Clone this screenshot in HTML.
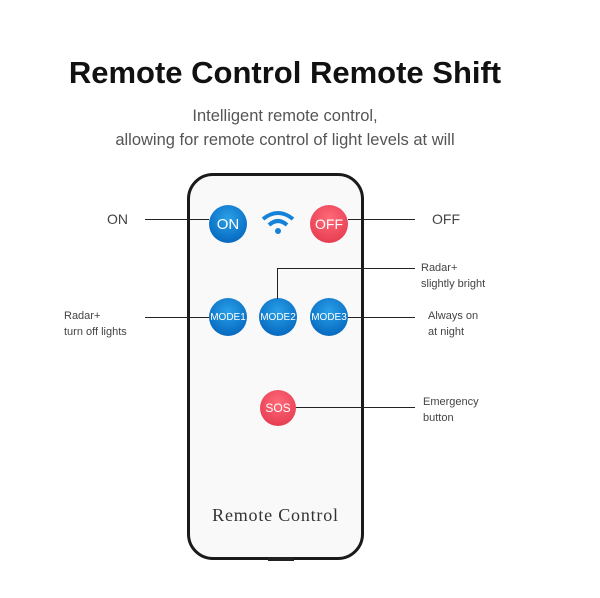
<!DOCTYPE html>
<html><head><style>
body{margin:0;width:600px;height:598px;background:#fff;position:relative;overflow:hidden;font-family:"Liberation Sans",sans-serif}
.t{position:absolute;white-space:nowrap}
.btn{position:absolute;border-radius:50%;color:#fff;display:flex;align-items:center;justify-content:center;font-family:"Liberation Sans",sans-serif}
.blue{background:radial-gradient(circle at 50% 35%,#2aa0e8,#0a6fc4 70%,#0a5aa8)}
.red{background:radial-gradient(circle at 50% 35%,#ff6a78,#e94356 70%,#d8364a)}
.l{position:absolute;background:#222}
</style></head><body>
<div class="t" style="left:0;width:570px;text-align:center;top:55px;font-size:31px;font-weight:bold;color:#111">Remote Control Remote Shift</div>
<div class="t" style="left:0;width:570px;text-align:center;top:104px;font-size:16.5px;color:#555;line-height:24px">Intelligent remote control,<br>allowing for remote control of light levels at will</div>
<div style="position:absolute;left:187px;top:173px;width:171px;height:381px;border:3px solid #1a1a1a;border-radius:26px;background:#f9f9fa"></div>
<div style="position:absolute;left:268px;top:557px;width:26px;height:4px;background:#222"></div>
<div class="btn blue" style="left:209px;top:205px;width:38px;height:38px;font-size:15px">ON</div>
<div class="btn red" style="left:310px;top:205px;width:38px;height:38px;font-size:14px">OFF</div>
<svg style="position:absolute;left:260px;top:210px" width="36" height="26" viewBox="0 0 36 26"><path d="M3 9 Q18 -3 33 9" stroke="#1482d8" stroke-width="4" fill="none"/><path d="M9 15 Q18 7 27 15" stroke="#1482d8" stroke-width="4" fill="none"/><circle cx="18" cy="21" r="3" fill="#1482d8"/></svg>
<div class="btn blue" style="left:209px;top:298px;width:38px;height:38px;font-size:10px">MODE1</div>
<div class="btn blue" style="left:259px;top:298px;width:38px;height:38px;font-size:10px">MODE2</div>
<div class="btn blue" style="left:310px;top:298px;width:38px;height:38px;font-size:10px">MODE3</div>
<div class="btn red" style="left:260px;top:390px;width:36px;height:36px;font-size:12px">SOS</div>
<div class="t" style="left:187px;width:177px;text-align:center;top:505px;font-family:'Liberation Serif',serif;font-size:18px;letter-spacing:0.8px;color:#333">Remote Control</div>
<div class="l" style="left:145px;top:219px;width:64px;height:1px"></div>
<div class="l" style="left:348px;top:219px;width:67px;height:1px"></div>
<div class="l" style="left:145px;top:317px;width:64px;height:1px"></div>
<div class="l" style="left:348px;top:317px;width:67px;height:1px"></div>
<div class="l" style="left:277px;top:268px;width:1px;height:31px"></div>
<div class="l" style="left:277px;top:268px;width:138px;height:1px"></div>
<div class="l" style="left:296px;top:407px;width:119px;height:1px"></div>
<div class="t" style="left:107px;top:211px;font-size:14px;color:#444">ON</div>
<div class="t" style="left:432px;top:211px;font-size:14px;color:#444">OFF</div>
<div class="t" style="left:64px;top:308px;font-size:11px;color:#444;line-height:16px">Radar+<br>turn off lights</div>
<div class="t" style="left:421px;top:260px;font-size:11px;color:#444;line-height:16px">Radar+<br>slightly bright</div>
<div class="t" style="left:428px;top:308px;font-size:11px;color:#444;line-height:16px">Always on<br>at night</div>
<div class="t" style="left:423px;top:394px;font-size:11px;color:#444;line-height:16px">Emergency<br>button</div>
</body></html>
